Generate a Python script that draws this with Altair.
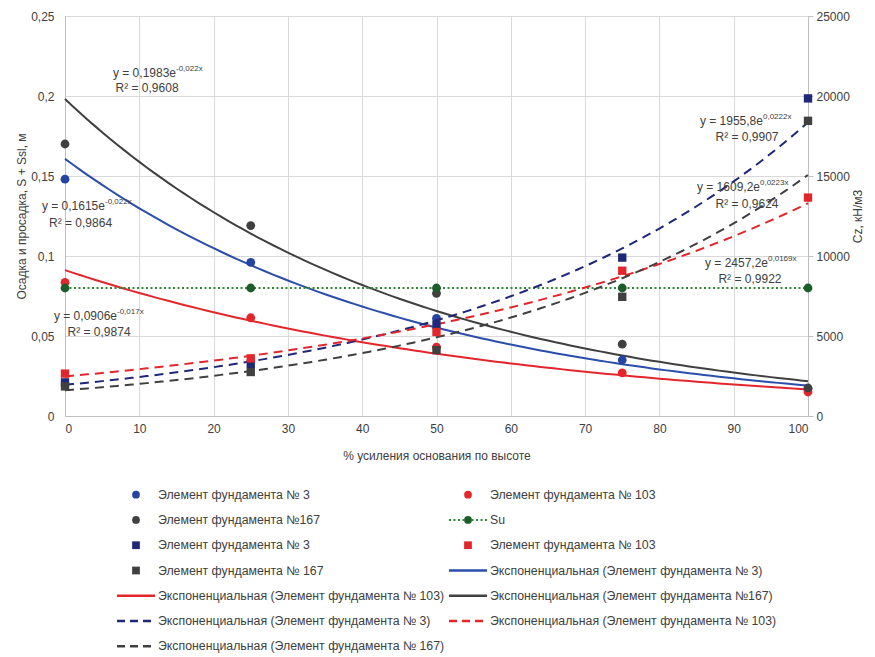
import altair as alt
import pandas as pd

# ---------------- data ----------------
x_pct = [0, 25, 50, 75, 100]

# settlement S + Ssl, m (left axis) - circles
s_el3 = [0.148, 0.096, 0.061, 0.035, 0.017]
s_el103 = [0.0835, 0.0614, 0.043, 0.027, 0.015]
s_el167 = [0.170, 0.119, 0.0767, 0.0449, 0.0175]
su = [0.08, 0.08, 0.08, 0.08, 0.08]

# Cz, kN/m3 (right axis) - squares
cz_el3 = [2100, 3250, 5700, 9900, 19850]
cz_el103 = [2650, 3600, 5250, 9080, 13650]
cz_el167 = [1850, 2750, 4120, 7450, 18450]

# trendline labels as shown on the chart
eq_main = ["y = 0,1983e", "y = 0,1615e", "y = 0,0906e", "y = 1955,8e", "y = 1609,2e", "y = 2457,2e"]
eq_sup = ["-0,022x", "-0,022x", "-0,017x", "0,0222x", "0,0223x", "0,0169x"]
eq_r2 = ["R² = 0,9608", "R² = 0,9864", "R² = 0,9874", "R² = 0,9907", "R² = 0,9624", "R² = 0,9922"]

legend_labels = [
    "Элемент фундамента № 3", "Элемент фундамента № 103",
    "Элемент фундамента №167", "Su",
    "Элемент фундамента № 3", "Элемент фундамента № 103",
    "Элемент фундамента № 167", "Экспоненциальная (Элемент фундамента № 3)",
    "Экспоненциальная (Элемент фундамента № 103)", "Экспоненциальная (Элемент фундамента №167)",
    "Экспоненциальная (Элемент фундамента № 3)", "Экспоненциальная (Элемент фундамента № 103)",
    "Экспоненциальная (Элемент фундамента № 167)",
]
legend_keys = ["c3", "c103", "c167", "su", "s3", "s103", "s167",
               "t3", "t103", "t167", "d3", "d103", "d167"]

# ---------------- layout / style ----------------
FONT = "Liberation Sans"
TXT = "#404040"
BLUE = "#2544a3"
BLUE_LINE = "#2b4eaa"
NAVY = "#1f2878"
RED = "#e3262b"
GRAY = "#404040"
GREEN_PT = "#1b5e2a"
GREEN_LINE = "#2e8b32"
DASH = [9, 6]

# annotation anchor positions (x in %, y in left-axis units)
eq_jx = [14.94, 5.38, 7.0, 93.94, 93.54, 94.62]
eq_my = [0.2144, 0.1313, 0.0625, 0.1844, 0.1431, 0.0956]
eq_rx = [11.04, 2.09, 4.58, 91.79, 91.79, 92.19]
eq_ry = [0.205, 0.1206, 0.0525, 0.1744, 0.1325, 0.0856]

xs_scale = alt.Scale(domain=[0, 100], nice=False)
x_axis = alt.Axis(values=list(range(0, 101, 10)), grid=True, gridColor="#d9d9d9",
                  domainColor="#bfbfbf", ticks=False, labelPadding=7, titlePadding=16)
yl_scale = alt.Scale(domain=[0, 0.25], nice=False)
yl_axis = alt.Axis(values=[0, 0.05, 0.1, 0.15, 0.2, 0.25],
                   labelExpr="replace(format(datum.value, '.2~f'), '.', ',')",
                   grid=True, gridColor="#d9d9d9", domainColor="#bfbfbf", ticks=False,
                   labelPadding=11, titlePadding=2)
yr_scale = alt.Scale(domain=[0, 25000], nice=False)
yr_axis = alt.Axis(orient="right", values=list(range(0, 25001, 5000)), format="d",
                   grid=False, ticks=True, tickSize=5, tickColor="#bfbfbf",
                   domainColor="#bfbfbf", labelPadding=3, titlePadding=15, titleAngle=270)

X_TITLE = "% усиления основания по высоте"
YL_TITLE = "Осадка и просадка, S + Ssl, м"
YR_TITLE = "Cz, кН/м3"


def X(field):
    return alt.X(f"{field}:Q", scale=xs_scale, axis=x_axis, title=X_TITLE)


def YL(field):
    return alt.Y(f"{field}:Q", scale=yl_scale, axis=yl_axis, title=YL_TITLE)


def YR(field):
    return alt.Y(f"{field}:Q", scale=yr_scale, axis=yr_axis, title=YR_TITLE)


def YA(field):
    return alt.Y(f"{field}:Q", scale=yl_scale, axis=None)


def frame(vals):
    return pd.DataFrame({"x": x_pct, "y": vals})


def fit_line(vals, color, yfun, dash=None):
    """Excel-style exponential trendline: least squares on ln(y), computed by Vega."""
    kw = dict(color=color, strokeWidth=2)
    if dash:
        kw["strokeDash"] = dash
    return (
        alt.Chart(frame(vals))
        .transform_calculate(ly="log(datum.y)")
        .transform_joinaggregate(mx="mean(x)", mly="mean(ly)")
        .transform_calculate(dxy="(datum.x - datum.mx) * (datum.ly - datum.mly)")
        .transform_calculate(dxx="(datum.x - datum.mx) * (datum.x - datum.mx)")
        .transform_joinaggregate(sxy="sum(dxy)", sxx="sum(dxx)")
        .transform_window(rn="row_number()")
        .transform_filter("datum.rn == 1")
        .transform_calculate(b="datum.sxy / datum.sxx")
        .transform_calculate(a="exp(datum.mly - datum.b * datum.mx)")
        .transform_calculate(xs="sequence(0, 101, 1)")
        .transform_flatten(["xs"])
        .transform_calculate(fit="datum.a * exp(datum.b * datum.xs)")
        .mark_line(**kw)
        .encode(x=X("xs"), y=yfun("fit"))
    )


def pts(vals, color, shape, yfun, size=78):
    return alt.Chart(frame(vals)).mark_point(
        filled=True, shape=shape, size=size, opacity=1, color=color
    ).encode(x=X("x"), y=yfun("y"))


su_line = alt.Chart(frame(su)).mark_line(
    color=GREEN_LINE, strokeWidth=2, strokeDash=[2, 2.5]
).encode(x=X("x"), y=YL("y"))

left = alt.layer(
    fit_line(s_el3, BLUE_LINE, YL),
    fit_line(s_el103, RED, YL),
    fit_line(s_el167, GRAY, YL),
    su_line,
    pts(s_el3, BLUE, "circle", YL),
    pts(s_el103, RED, "circle", YL),
    pts(s_el167, GRAY, "circle", YL),
    pts(su, GREEN_PT, "circle", YL),
)

right = alt.layer(
    fit_line(cz_el3, NAVY, YR, DASH),
    fit_line(cz_el103, RED, YR, DASH),
    fit_line(cz_el167, GRAY, YR, DASH),
    pts(cz_el3, NAVY, "square", YR, 70),
    pts(cz_el103, RED, "square", YR, 70),
    pts(cz_el167, GRAY, "square", YR, 70),
)

ann_df = pd.DataFrame({"main": eq_main, "sup": eq_sup, "r2": eq_r2,
                       "jx": eq_jx, "my": eq_my, "rx": eq_rx, "ry": eq_ry})
ann_base = alt.Chart(ann_df)
ann = alt.layer(
    ann_base.mark_text(align="right", baseline="middle", fontSize=12, color=TXT)
    .encode(x=X("jx"), y=YA("my"), text="main:N"),
    ann_base.mark_text(align="left", baseline="middle", fontSize=8, dy=-4, color=TXT)
    .encode(x=X("jx"), y=YA("my"), text="sup:N"),
    ann_base.mark_text(align="center", baseline="middle", fontSize=12, color=TXT)
    .encode(x=X("rx"), y=YA("ry"), text="r2:N"),
)

top = alt.layer(left, right, ann).resolve_scale(y="independent").properties(width=743, height=400)

# ---------------- legend (two columns) ----------------
leg_df = pd.DataFrame({
    "label": legend_labels,
    "key": legend_keys,
    "col": [i % 2 for i in range(len(legend_labels))],
    "row": [i // 2 for i in range(len(legend_labels))],
})
leg_colors = [BLUE, RED, GRAY, GREEN_PT, NAVY, RED, GRAY,
              BLUE_LINE, RED, GRAY, NAVY, RED, GRAY]
LX = alt.X("col:Q", scale=alt.Scale(domain=[0, 1], range=[71, 403]), axis=None)
LY = alt.Y("row:Q", scale=alt.Scale(domain=[-0.5, 6.5], reverse=True), axis=None)
LC = alt.Color("key:N", scale=alt.Scale(domain=legend_keys, range=leg_colors), legend=None)
lb = alt.Chart(leg_df)


def only(keys):
    return alt.FieldOneOfPredicate(field="key", oneOf=keys)


legend = alt.layer(
    lb.transform_filter(only(["su"])).mark_rule(strokeWidth=2, strokeDash=[2, 2.5], xOffset=-19, x2Offset=19, color=GREEN_LINE)
    .encode(x=LX, x2="col:Q", y=LY),
    lb.transform_filter(only(["t3", "t103", "t167"])).mark_rule(strokeWidth=2.5, xOffset=-19, x2Offset=19)
    .encode(x=LX, x2="col:Q", y=LY, color=LC),
    lb.transform_filter(only(["d3", "d103", "d167"])).mark_rule(strokeWidth=2.5, strokeDash=[8, 5], xOffset=-19, x2Offset=19)
    .encode(x=LX, x2="col:Q", y=LY, color=LC),
    lb.transform_filter(only(["c3", "c103", "c167", "su"])).mark_point(filled=True, shape="circle", size=60, opacity=1)
    .encode(x=LX, y=LY, color=LC),
    lb.transform_filter(only(["s3", "s103", "s167"])).mark_point(filled=True, shape="square", size=60, opacity=1)
    .encode(x=LX, y=LY, color=LC),
    lb.mark_text(align="left", baseline="middle", dx=22, fontSize=12.3, color=TXT)
    .encode(x=LX, y=LY, text="label:N"),
).properties(width=743, height=177)

chart = (
    alt.vconcat(top, legend, spacing=21)
    .configure(font=FONT, padding={"left": 7, "top": 2, "right": 0, "bottom": 0})
    .configure_view(stroke=None)
    .configure_axis(labelFont=FONT, labelFontSize=12, labelColor=TXT,
                    titleFont=FONT, titleFontSize=12, titleFontWeight="normal", titleColor=TXT)
)

chart.save("out.html", embed_options={"renderer": "svg", "actions": False})
